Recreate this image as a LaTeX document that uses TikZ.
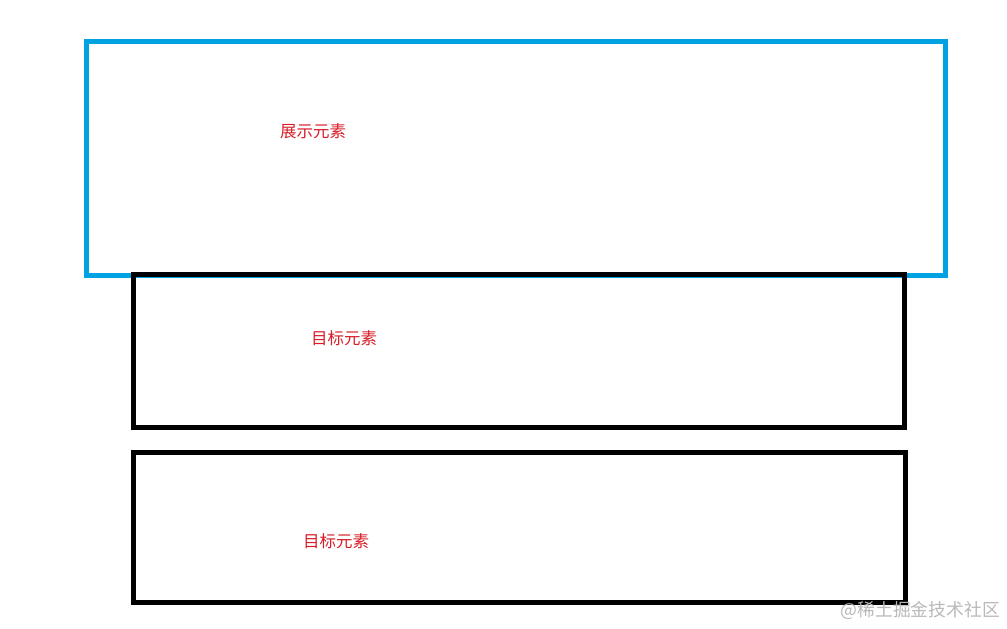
\documentclass[tikz,border=0pt]{standalone}
\usepackage{fontspec}
\newfontfamily\cjk{Noto Sans CJK SC}
\definecolor{boxblue}{RGB}{0,162,226}
\definecolor{labelred}{RGB}{215,30,40}
\definecolor{wmgray}{RGB}{185,185,185}
\begin{document}
\begin{tikzpicture}[x=1pt,y=-1pt,
  bluebox/.style={draw=boxblue,line width=5pt,outer sep=0pt,inner sep=0pt},
  blackbox/.style={draw=black,line width=5pt,outer sep=0pt,inner sep=0pt},
  lbl/.style={text=labelred,font=\cjk\fontsize{16.5}{18}\selectfont,inner sep=0pt},
  wm/.style={text=wmgray,font=\cjk\fontsize{17.8}{20}\selectfont,inner sep=0pt}]
\useasboundingbox[fill=white] (0,0) rectangle (1007,629);
\node[bluebox,minimum width=859pt,minimum height=234pt,anchor=north west] (show) at (86.5,41.5) {};
\node[blackbox,minimum width=771pt,minimum height=153pt,anchor=north west] (t1) at (133.5,274.5) {};
\node[blackbox,minimum width=772pt,minimum height=150pt,anchor=north west] (t2) at (133.5,452.5) {};
\node[lbl] (l0) at (313,131) {展示元素};
\node[lbl] (l1) at (344,338) {目标元素};
\node[lbl] (l2) at (336,541) {目标元素};
\node[wm,anchor=east] (w) at (1000,610) {@稀土掘金技术社区};
\end{tikzpicture}
\end{document}
